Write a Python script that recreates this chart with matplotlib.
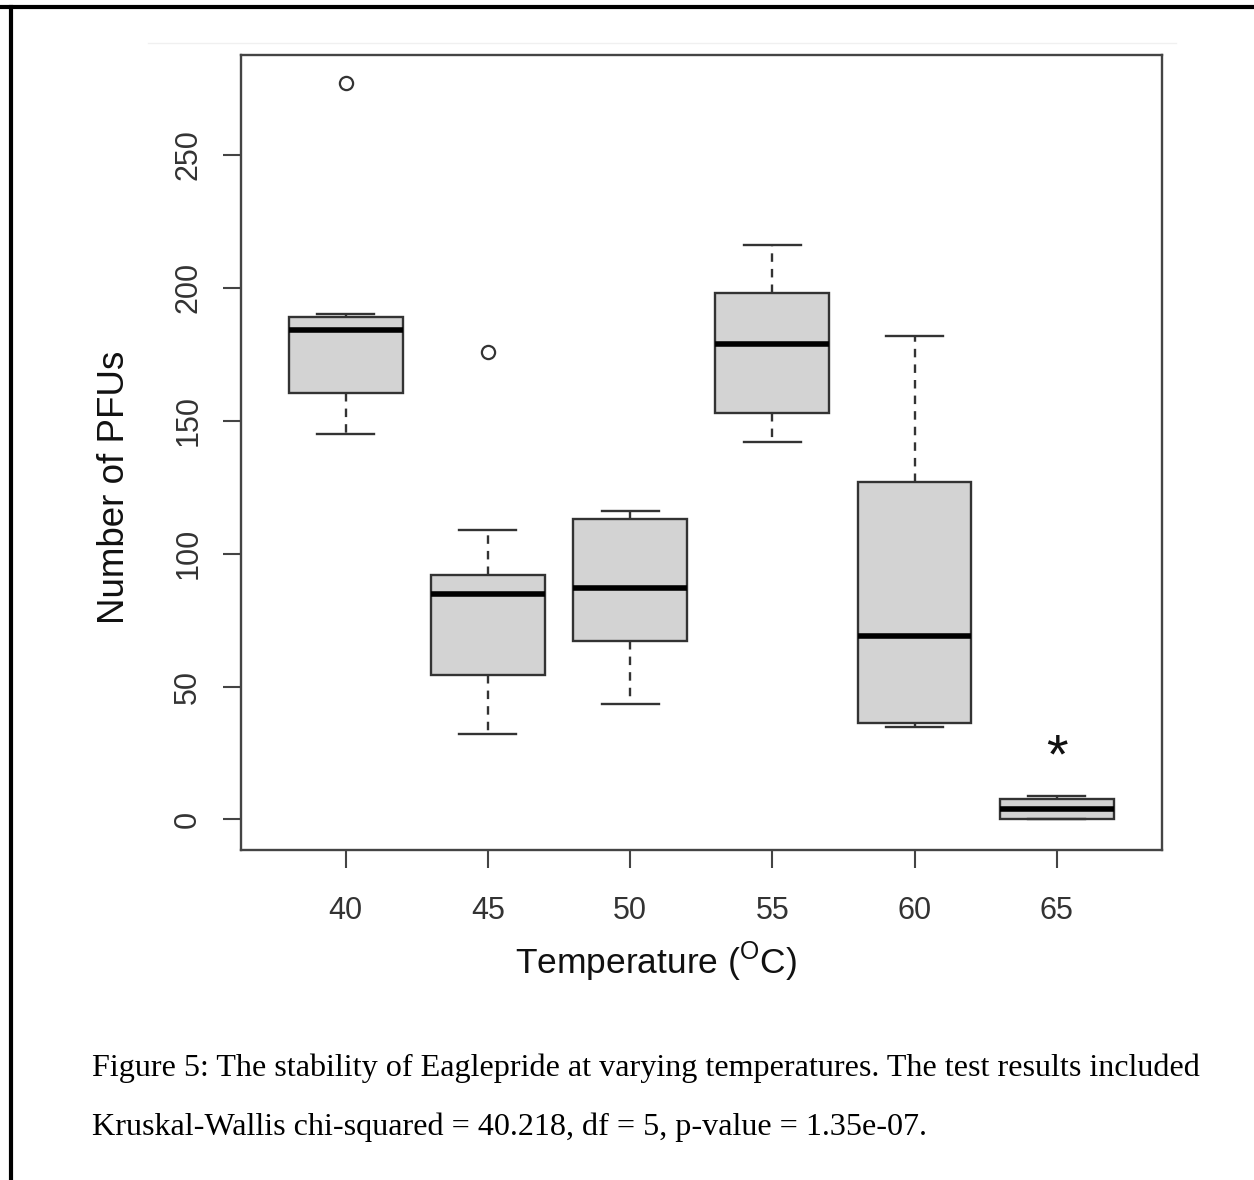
import matplotlib
matplotlib.use("Agg")
import matplotlib.pyplot as plt
from matplotlib.lines import Line2D

# Valores (PFUs por temperatura)
temps    = ["40", "45", "50", "55", "60", "65"]
medians  = [184, 85, 87, 179, 69, 4]
q1       = [160.6, 54.5, 67, 153, 36.2, 0]
q3       = [189, 92, 113, 198, 127, 7.6]
whis_lo  = [145, 32, 43.5, 142, 34.7, 0]
whis_hi  = [190, 109, 116, 216, 182, 9]
outliers = [[277], [176], [], [], [], []]
yticks   = [0, 50, 100, 150, 200, 250]

caption_1 = "Figure 5: The stability of Eaglepride at varying temperatures. The test results included"
caption_2 = "Kruskal-Wallis chi-squared = 40.218, df = 5, p-value = 1.35e-07."

plt.rcParams["font.family"] = ["Liberation Sans", "DejaVu Sans"]
plt.rcParams["mathtext.fontset"] = "custom"
plt.rcParams["mathtext.rm"] = "Liberation Sans"

W, H = 1254, 1180
fig = plt.figure(figsize=(W / 100, H / 100), dpi=100)
fig.patch.set_facecolor("white")

# moldura preta (topo e esquerda) e linha clara do topo da imagem
fig.add_artist(Line2D([0, 1], [1 - 7 / H, 1 - 7 / H], color="black", lw=3, transform=fig.transFigure))
fig.add_artist(Line2D([11 / W, 11 / W], [0, 1 - 7 / H], color="black", lw=3, transform=fig.transFigure))
fig.add_artist(Line2D([148 / W, 1176 / W], [1 - 43 / H, 1 - 43 / H], color="#f0f0f0", lw=1, transform=fig.transFigure))

left, right, top, bottom = 240.7, 1161.7, 55, 850
ax = fig.add_axes([left / W, 1 - bottom / H, (right - left) / W, (bottom - top) / H])

stats = []
for i in range(len(temps)):
    stats.append({
        "med": medians[i], "q1": q1[i], "q3": q3[i],
        "whislo": whis_lo[i], "whishi": whis_hi[i], "fliers": outliers[i],
    })

edge = "#333333"
ax.bxp(
    stats, positions=range(1, len(temps) + 1), widths=0.8, capwidths=0.4,
    patch_artist=True,
    boxprops=dict(facecolor="#d3d3d3", edgecolor=edge, linewidth=1.7),
    medianprops=dict(color="black", linewidth=4),
    whiskerprops=dict(color=edge, linewidth=1.7, dashes=(3.6, 3.0)),
    capprops=dict(color=edge, linewidth=1.7),
    flierprops=dict(marker="o", markerfacecolor="none", markeredgecolor=edge,
                    markersize=9.5, markeredgewidth=1.6),
)

# marcador de significancia sobre o grupo de 65
ax.text(6, 17.5, "*", ha="center", va="baseline", fontsize=40, color="#111111")

ax.set_xlim(0.262, 6.738)
ax.set_ylim(-11.5, 287.6)
ax.set_xticks(range(1, len(temps) + 1))
ax.set_xticklabels(temps)
ax.set_yticks(yticks)
ax.set_yticklabels([str(v) for v in yticks], rotation=90, va="center")

ax.tick_params(axis="both", length=13, width=1.5, color="#444444",
               labelsize=22, labelcolor="#333333")
ax.tick_params(axis="x", pad=20)
ax.tick_params(axis="y", pad=14)
for spine in ax.spines.values():
    spine.set_edgecolor("#444444")
    spine.set_linewidth(1.7)

fig.text(656 / W, 1 - 962 / H, r"Temperature ($^{\mathrm{O}}$C)", ha="center", va="center",
         fontsize=25.5, color="#111111")
fig.text(114 / W, 1 - 487 / H, "Number of PFUs", ha="center", va="center", rotation=90,
         fontsize=26.5, color="#111111")

fig.text(92 / W, 1 - 1068 / H, caption_1, ha="left", va="center",
         fontsize=23.1, family="Liberation Serif", color="black")
fig.text(92 / W, 1 - 1127 / H, caption_2, ha="left", va="center",
         fontsize=23.1, family="Liberation Serif", color="black")

plt.savefig("out.png", dpi=100, facecolor="white")
plt.close()
